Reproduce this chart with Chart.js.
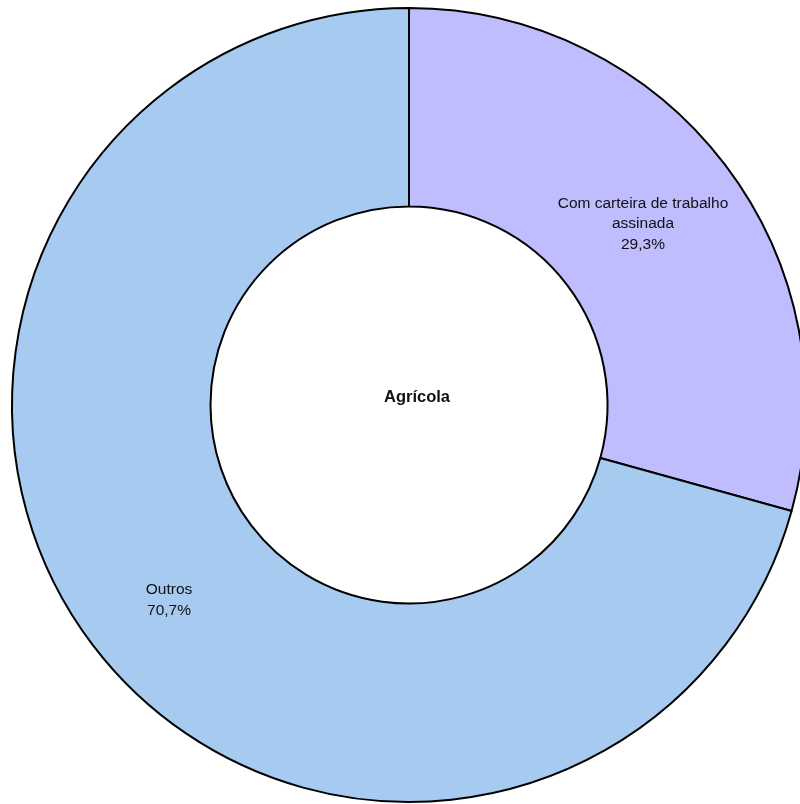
<!DOCTYPE html>
<html>
<head>
<meta charset="utf-8">
<script src="https://cdn.jsdelivr.net/npm/chart.js@4.4.0/dist/chart.umd.min.js"></script>
<style>
  html, body { margin: 0; padding: 0; background: #fff; overflow: hidden; }
  #wrap { position: absolute; left: 0; top: 0; width: 818px; height: 810px; }
</style>
</head>
<body>
<div id="wrap"><canvas id="chart"></canvas></div>
<script>
// Chart data
const categories = ['Com carteira de trabalho assinada', 'Outros'];
const labelLines = [['Com carteira de trabalho', 'assinada'], ['Outros']];
const values = [29.3, 70.7];
const colors = ['#C0BDFE', '#A7CAF0'];
const centerTitle = 'Agrícola';

// small nudges so labels sit where the original put them
const labelNudge = [[-3, -1], [-3, 15]];

// Draws the slice labels and the centre title
const labelPlugin = {
    id: 'sliceLabels',
    afterDatasetsDraw(chart) {
        const ctx = chart.ctx;
        const meta = chart.getDatasetMeta(0);
        ctx.save();
        ctx.fillStyle = '#111';
        ctx.textAlign = 'center';
        ctx.textBaseline = 'middle';
        ctx.font = '15.5px "Liberation Sans", Arial, sans-serif';
        meta.data.forEach((arc, i) => {
            const pos = arc.tooltipPosition();
            const lines = labelLines[i].concat([values[i].toFixed(1).replace('.', ',') + '%']);
            const lh = 20.5;
            const x = pos.x + labelNudge[i][0];
            const top = pos.y + labelNudge[i][1] - (lines.length - 1) * lh / 2;
            lines.forEach((t, j) => ctx.fillText(t, x, top + j * lh));
        });
        const first = meta.data[0];
        ctx.font = 'bold 16.5px "Liberation Sans", Arial, sans-serif';
        ctx.fillText(centerTitle, first.x + 8, first.y - 8);
        ctx.restore();
    }
};

new Chart(document.getElementById('chart'), {
    type: 'doughnut',
    data: {
        labels: categories,
        datasets: [{
            data: values,
            backgroundColor: colors,
            borderColor: '#000',
            borderWidth: 2,
            hoverOffset: 0
        }]
    },
    options: {
        responsive: true,
        maintainAspectRatio: false,
        animation: false,
        cutout: '50%',
        layout: { padding: { left: 11, right: 11, top: 7, bottom: 7 } },
        plugins: {
            legend: { display: false },
            tooltip: { enabled: false }
        }
    },
    plugins: [labelPlugin]
});
</script>
</body>
</html>
